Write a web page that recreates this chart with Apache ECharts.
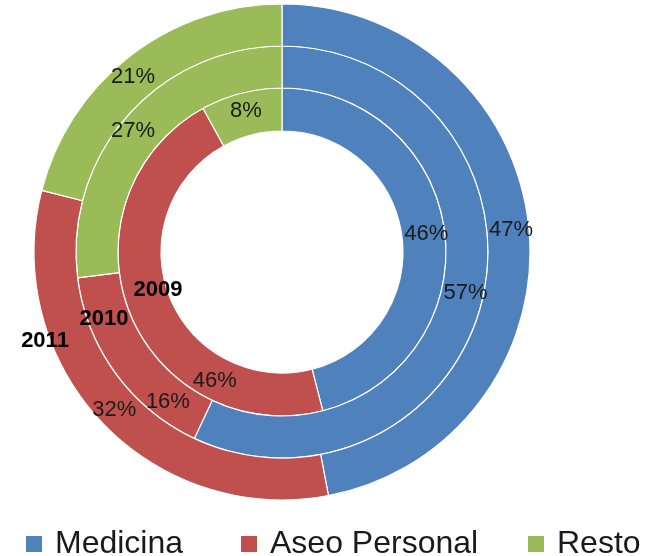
<!DOCTYPE html>
<html>
<head>
<meta charset="utf-8">
<script src="https://cdn.jsdelivr.net/npm/echarts@6/dist/echarts.min.js"></script>
<style>
  html, body { margin: 0; padding: 0; background: #ffffff; }
  #chart { width: 656px; height: 556px; }
</style>
</head>
<body>
<div id="chart"></div>
<script>
// ---- data ----
const categories = ['Medicina', 'Aseo Personal', 'Resto'];
const years = ['2009', '2010', '2011'];
const values2009 = [46, 46, 8];
const values2010 = [57, 16, 27];
const values2011 = [47, 32, 21];
const colors = ['#4F81BD', '#C0504D', '#9BBB59'];

// ---- layout ----
const FONT = "'Liberation Sans', Arial, sans-serif";
const center = [282, 252];
const rings = [[121, 164], [164, 206], [206, 248]];
const labelShift = [
  { 1: [68, 75] },
  { 1: [38, 39], 2: [-8, 3] },
  { 2: [-8, 7] }
];
const yearLabelPos = [[158, 290], [104, 319], [45, 341]];
const legendLeft = [24, 239, 526];

const allValues = [values2009, values2010, values2011];

const chart = echarts.init(document.getElementById('chart'), null, { renderer: 'canvas' });

const series = years.map((y, i) => ({
  name: y,
  type: 'pie',
  center: center,
  radius: rings[i],
  startAngle: 90,
  clockwise: true,
  silent: true,
  avoidLabelOverlap: false,
  itemStyle: { borderColor: '#ffffff', borderWidth: 1.2 },
  label: {
    show: true,
    position: 'inside',
    formatter: '{c}%',
    fontFamily: FONT,
    fontSize: 22,
    color: '#1a1a1a'
  },
  labelLine: { show: false },
  emphasis: { disabled: true },
  labelLayout: function (p) {
    const s = labelShift[i][p.dataIndex];
    return s ? { dx: s[0], dy: s[1] } : {};
  },
  data: categories.map((c, k) => ({ name: c, value: allValues[i][k] }))
}));

const legends = categories.map((c, k) => ({
  data: [c],
  left: legendLeft[k],
  top: 528,
  padding: 0,
  itemWidth: 18,
  itemHeight: 18,
  icon: 'rect',
  selectedMode: false,
  textStyle: {
    fontFamily: FONT,
    fontSize: 32,
    lineHeight: 32,
    color: '#1a1a1a',
    padding: [0, 0, 0, 7]
  }
}));

const graphics = years.map((y, i) => ({
  type: 'text',
  x: yearLabelPos[i][0],
  y: yearLabelPos[i][1],
  style: {
    text: y,
    font: 'bold 22px ' + FONT,
    fill: '#000000',
    align: 'center',
    verticalAlign: 'middle'
  },
  z: 100
}));

chart.setOption({
  animation: false,
  color: colors,
  legend: legends,
  graphic: graphics,
  series: series
});
</script>
</body>
</html>
